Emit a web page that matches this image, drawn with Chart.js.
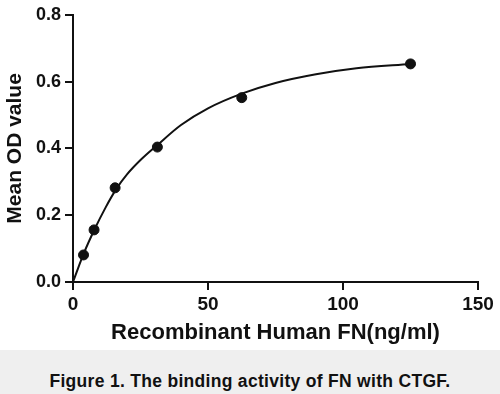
<!DOCTYPE html>
<html>
<head>
<meta charset="utf-8">
<script src="https://cdn.jsdelivr.net/npm/chart.js@4"></script>
<style>
  html, body { margin: 0; padding: 0; background: #fff; }
  #wrap { width: 500px; height: 350px; position: relative; }
  #caption {
    box-sizing: border-box;
    width: 500px; height: 44px; background: #efefef;
    padding-top: 18px;
    font: bold 17.5px "Liberation Sans", Arial, sans-serif;
    color: #111; text-align: center; line-height: 26px;
    letter-spacing: 0.3px;
  }
</style>
</head>
<body>
<div id="wrap"><canvas id="bindingChart" width="500" height="350"></canvas></div>
<div id="caption">Figure 1. The binding activity of FN with CTGF.</div>
<script>
// measured points (FN concentration, mean OD)
var concentrations = [3.9, 7.8, 15.6, 31.25, 62.5, 125];
var meanOD = [0.081, 0.156, 0.282, 0.404, 0.552, 0.653];

// fitted curve
var curveX = [0, 2, 4, 8, 12, 16, 20, 25, 31.25, 40, 50, 62.5, 75, 90, 105, 125];
var curveY = [0, 0.044, 0.086, 0.158, 0.222, 0.278, 0.322, 0.365, 0.41, 0.47, 0.52, 0.564, 0.596, 0.622, 0.64, 0.653];

var xTicks = [0, 50, 100, 150];
var yTicks = [0, 0.2, 0.4, 0.6, 0.8];

function toXY(xs, ys) {
    return xs.map(function(x, i) { return { x: x, y: ys[i] }; });
}

var ink = '#111';
var ctx = document.getElementById('bindingChart').getContext('2d');
var chart = new Chart(ctx, {
    type: 'scatter',
    data: {
        datasets: [{
            label: 'Fit',
            data: toXY(curveX, curveY),
            showLine: true,
            borderColor: ink,
            borderWidth: 2,
            pointRadius: 0,
            cubicInterpolationMode: 'monotone',
            fill: false
        }, {
            label: 'Mean OD',
            data: toXY(concentrations, meanOD),
            showLine: false,
            backgroundColor: ink,
            borderColor: ink,
            pointRadius: 5,
            pointHoverRadius: 5
        }]
    },
    options: {
        responsive: false,
        animation: false,
        clip: false,
        layout: { padding: { top: 14, right: 22, left: 0, bottom: 0 } },
        plugins: {
            legend: { display: false },
            tooltip: { enabled: false }
        },
        scales: {
            x: {
                type: 'linear',
                min: xTicks[0],
                max: xTicks[xTicks.length - 1],
                afterBuildTicks: function(scale) {
                    scale.ticks = xTicks.map(function(v) { return { value: v }; });
                },
                afterFit: function(scale) { scale.height = 68; },
                border: { display: true, color: ink, width: 2 },
                grid: { display: true, drawOnChartArea: false, drawTicks: true, tickLength: 8, color: ink, lineWidth: 2 },
                ticks: {
                    color: ink,
                    padding: 3,
                    font: { family: 'Liberation Sans', size: 19, weight: 'bold' }
                },
                title: {
                    display: true,
                    text: 'Recombinant Human FN(ng/ml)',
                    color: ink,
                    padding: { top: 0, bottom: 4 },
                    font: { family: 'Liberation Sans', size: 22, weight: 'bold' }
                }
            },
            y: {
                type: 'linear',
                min: yTicks[0],
                max: yTicks[yTicks.length - 1],
                afterBuildTicks: function(scale) {
                    scale.ticks = yTicks.map(function(v) { return { value: v }; });
                },
                afterFit: function(scale) { scale.width = 73; },
                border: { display: true, color: ink, width: 2 },
                grid: { display: true, drawOnChartArea: false, drawTicks: true, tickLength: 8, color: ink, lineWidth: 2 },
                ticks: {
                    color: ink,
                    padding: 4,
                    font: { family: 'Liberation Sans', size: 18, weight: 'bold' },
                    callback: function(v) { return Number(v).toFixed(1); }
                },
                title: {
                    display: true,
                    text: 'Mean OD value',
                    color: ink,
                    padding: { top: 3, bottom: 0 },
                    font: { family: 'Liberation Sans', size: 21, weight: 'bold' }
                }
            }
        }
    }
});
</script>
</body>
</html>
